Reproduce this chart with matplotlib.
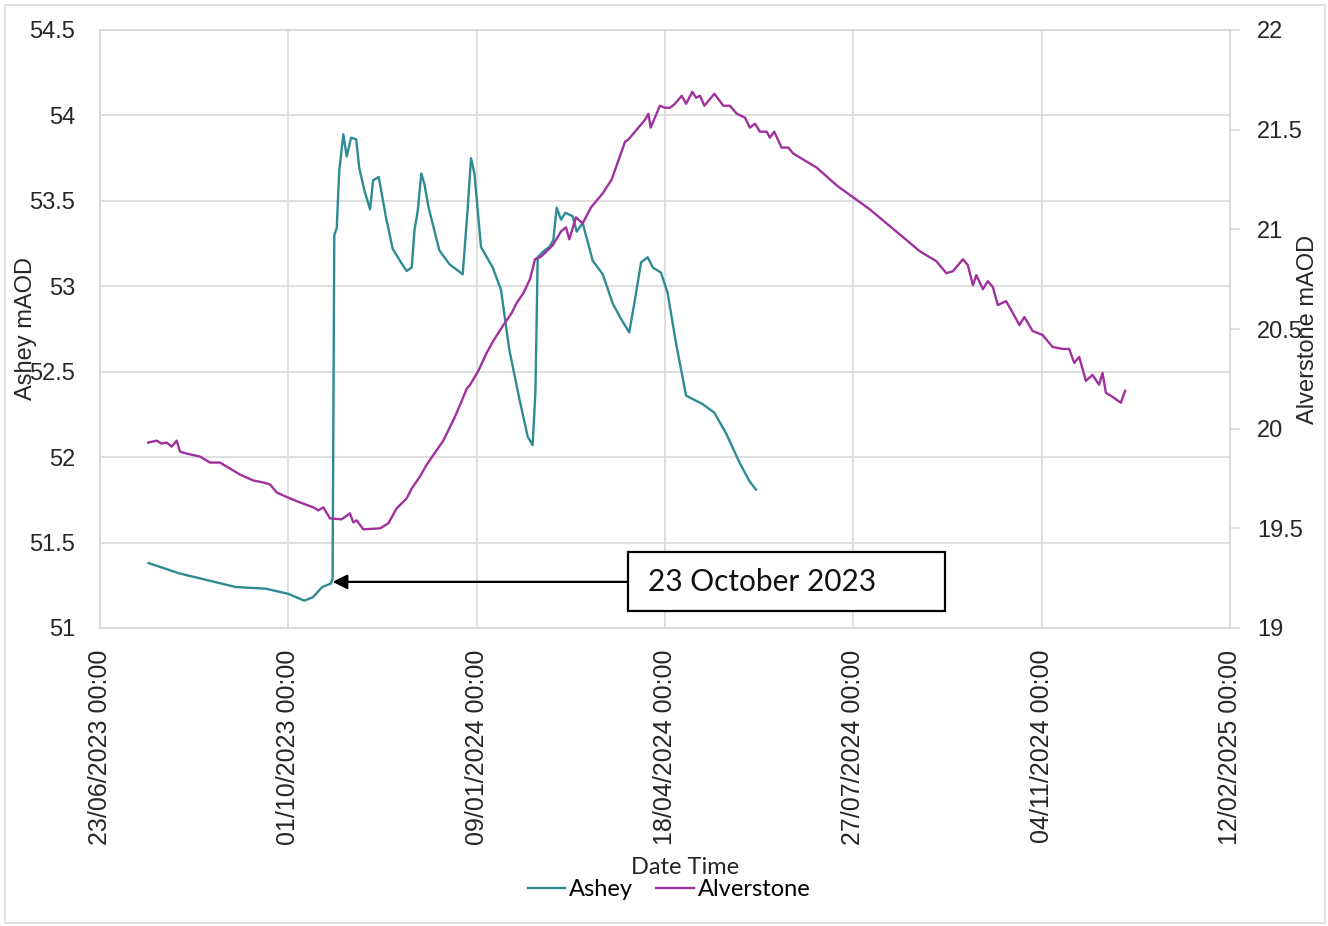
import numpy as np
import pandas as pd
import matplotlib
matplotlib.use("Agg")
from matplotlib import pyplot as plt, ticker
import matplotlib.dates as mdates
from matplotlib.patches import Rectangle

# days since 23/06/2023
origin = pd.Timestamp("2023-06-23")

ashey_days = [25.8, 42, 72, 88, 100, 108.5, 113, 118, 122.6, 123.5, 124.4, 125.7, 127, 129.2,
              131, 133.3, 136, 137.7, 140.4, 143.4, 145, 148, 151.9, 155.4, 159.8, 162.8,
              165.5, 167, 168.7, 170.6, 172.2, 174.5, 180.2, 185.5, 192.6, 195.2, 197, 198.8,
              202.3, 208.5, 212.9, 217.3, 222.7, 227.1, 229.7, 231.2, 232.4, 235, 238.6,
              240.7, 242.5, 244.8, 247.1, 251, 253.1, 256.3, 261.6, 267, 272.2, 276.6, 281,
              283.7, 287.3, 290.8, 293.5, 297.9, 301.4, 305.8, 311.2, 316.5, 320, 326.2,
              332.4, 339.5, 344.8, 348.3]
ashey_level = [51.38, 51.32, 51.24, 51.23, 51.20, 51.16, 51.18, 51.24, 51.26, 51.29, 53.30,
               53.34, 53.67, 53.89, 53.76, 53.87, 53.86, 53.69, 53.56, 53.45, 53.62, 53.64,
               53.40, 53.22, 53.14, 53.09, 53.11, 53.33, 53.44, 53.66, 53.60, 53.46, 53.21,
               53.13, 53.07, 53.45, 53.75, 53.66, 53.23, 53.11, 52.98, 52.63, 52.34, 52.12,
               52.07, 52.38, 53.17, 53.20, 53.23, 53.27, 53.46, 53.39, 53.43, 53.41, 53.32,
               53.37, 53.15, 53.07, 52.90, 52.81, 52.73, 52.90, 53.14, 53.17, 53.11, 53.08,
               52.96, 52.67, 52.36, 52.33, 52.31, 52.26, 52.14, 51.97, 51.86, 51.81]

alver_days = [25.6, 30.1, 32.7, 35.4, 38.1, 40.7, 42.5, 46, 53.1, 58.4, 63.7, 70.8, 74.3,
              81.4, 86.7, 90.3, 93.8, 100.9, 106.2, 113.3, 115.9, 118.6, 122.1, 128.3, 132.7,
              134.5, 136.3, 139.8, 148.7, 153.1, 157.5, 162.8, 165.5, 169.9, 173.5, 182.3,
              188.5, 192.1, 194.7, 196.5, 200.9, 205.3, 208.8, 214.2, 218.6, 221.2, 224.8,
              228.3, 231, 233.6, 235, 240.4, 244.8, 247.4, 249.2, 252.7, 256.3, 260.7, 266.9,
              271.7, 278.8, 280.5, 283.2, 287.6, 289.4, 291.2, 292.4, 297.3, 300, 302.7,
              305.3, 308.9, 311.2, 314.5, 316.5, 318.6, 320.9, 326.2, 331, 334.5, 338.1,
              342.5, 345.1, 347.8, 350.4, 354, 355.7, 358, 361.9, 365.5, 368.1, 375.2, 380.5,
              391.2, 400, 408.8, 417.6, 426.5, 435.3, 444.1, 449.4, 452.9, 458.2, 460.8,
              463.5, 465.3, 468.8, 471.4, 474.1, 476.7, 481.1, 484.7, 488.2, 490.8, 495.2,
              500.5, 505.8, 511.1, 514.6, 517.3, 519.9, 523.5, 527, 530.5, 532.3, 534.1,
              537.6, 542, 544.3]
alver_level = [19.93, 19.94, 19.925, 19.93, 19.91, 19.94, 19.885, 19.875, 19.86, 19.83, 19.83,
               19.79, 19.77, 19.74, 19.73, 19.72, 19.68, 19.65, 19.63, 19.605, 19.59, 19.605,
               19.55, 19.545, 19.575, 19.53, 19.54, 19.495, 19.50, 19.525, 19.60, 19.65, 19.70,
               19.76, 19.82, 19.94, 20.06, 20.14, 20.20, 20.22, 20.29, 20.38, 20.44, 20.52,
               20.58, 20.63, 20.68, 20.75, 20.85, 20.86, 20.87, 20.92, 20.99, 21.01, 20.95,
               21.06, 21.03, 21.11, 21.18, 21.25, 21.44, 21.45, 21.48, 21.53, 21.55, 21.58,
               21.51, 21.62, 21.61, 21.61, 21.63, 21.67, 21.63, 21.69, 21.66, 21.67, 21.62,
               21.68, 21.62, 21.62, 21.58, 21.56, 21.51, 21.53, 21.49, 21.49, 21.46, 21.49,
               21.41, 21.41, 21.38, 21.34, 21.31, 21.22, 21.16, 21.10, 21.03, 20.96, 20.89,
               20.84, 20.78, 20.79, 20.85, 20.82, 20.72, 20.77, 20.70, 20.74, 20.71, 20.62,
               20.64, 20.58, 20.52, 20.56, 20.49, 20.47, 20.41, 20.40, 20.40, 20.33, 20.36,
               20.24, 20.27, 20.22, 20.28, 20.18, 20.16, 20.13, 20.19]

event_day = 123.5
event_level = 51.27
event_label = "23 October 2023"

ashey_col = "#2E8B94"
alver_col = "#A0309E"
grid_col = "#D9D9D9"

ashey_t = origin + pd.to_timedelta(ashey_days, unit="D")
alver_t = origin + pd.to_timedelta(alver_days, unit="D")

plt.rcParams["font.family"] = ["Liberation Sans", "DejaVu Sans"]

fig = plt.figure(figsize=(13.28, 9.26), dpi=100)
ax = fig.add_axes([100/1328, 1-628/926, 1130/1328, 598/926])
ax2 = ax.twinx()

l1, = ax.plot(ashey_t, ashey_level, color=ashey_col, lw=1.7, label="Ashey")
l2, = ax2.plot(alver_t, alver_level, color=alver_col, lw=1.7, label="Alverstone")

# axes ranges
ax.set_xlim(origin, origin + pd.Timedelta(days=600))
ax.set_ylim(51, 54.5)
ax2.set_ylim(19, 22)
ax.set_yticks(np.arange(51, 54.51, 0.5))
ax2.set_yticks(np.arange(19, 22.01, 0.5))
ax.yaxis.set_major_formatter(ticker.FormatStrFormatter("%g"))
ax2.yaxis.set_major_formatter(ticker.FormatStrFormatter("%g"))
xt = [origin + pd.Timedelta(days=d) for d in range(0, 601, 100)]
ax.set_xticks(xt)
ax.xaxis.set_major_formatter(mdates.DateFormatter("%d/%m/%Y %H:%M"))

ax.grid(True, color=grid_col, lw=1.2)
ax.set_axisbelow(True)
for a in (ax, ax2):
    for s in a.spines.values():
        s.set_color(grid_col)
        s.set_linewidth(1.2)
ax.tick_params(axis="y", length=0, pad=18, labelsize=17, colors="#262626")
ax.tick_params(axis="x", length=0, pad=15.5, labelsize=18, labelrotation=90, colors="#262626")
ax2.tick_params(axis="y", length=7, width=1.2, color=grid_col, pad=12.5, labelsize=17,
                labelcolor="#262626")

ax.set_ylabel("Ashey mAOD", fontsize=17, color="#262626")
ax.yaxis.set_label_coords(-0.0558, 0.5)
ax2.set_ylabel("Alverstone mAOD", fontsize=17, color="#262626")
ax2.yaxis.set_label_coords(1.059, 0.5)

# annotation box + arrow
ax.add_patch(Rectangle((0.4673, 0.0284), 0.2805, 0.0987, transform=ax.transAxes,
                       facecolor="white", edgecolor="black", lw=1.6, zorder=5))
ax.text(0.485, 0.077, event_label, transform=ax.transAxes, ha="left", va="center",
        fontsize=21.5, family=["Lato", "DejaVu Sans"], color="#111111", zorder=6)
ax.annotate("", xy=(origin + pd.Timedelta(days=event_day), event_level),
            xytext=(0.4673, (event_level - 51) / 3.5), textcoords="axes fraction",
            arrowprops=dict(arrowstyle="-|>", color="black", lw=1.6, mutation_scale=22,
                            shrinkA=0, shrinkB=0), zorder=6)

fig.text(685/1328, 1-868/926, "Date Time", ha="center", va="center", fontsize=17,
         family=["Lato", "DejaVu Sans"], color="#262626")
fig.legend([l1, l2], ["Ashey", "Alverstone"], loc="center", bbox_to_anchor=(669/1328, 1-890/926),
           ncol=2, frameon=False, handlelength=1.6, handletextpad=0.15, columnspacing=1.0,
           prop={"family": ["Lato", "DejaVu Sans"], "size": 17})

fig.patches.append(Rectangle((5/1328, 3/926), 1320/1328, 918/926, transform=fig.transFigure,
                             fill=False, edgecolor=grid_col, lw=1.2))

fig.savefig("out.png", dpi=100, facecolor="white")
